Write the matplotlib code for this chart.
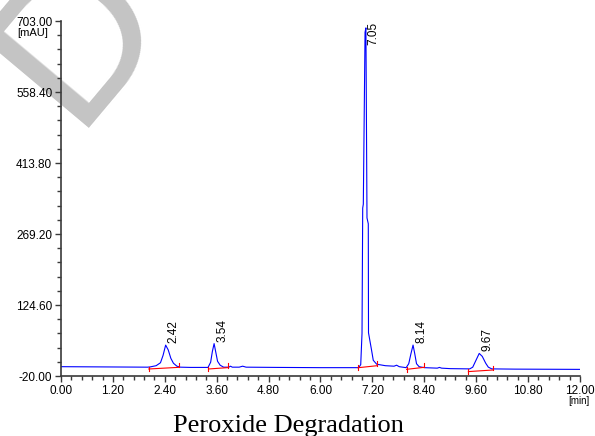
import matplotlib.pyplot as plt
from matplotlib.ticker import FixedLocator, MultipleLocator, FormatStrFormatter

# chromatogram trace (time in min, signal in mAU)
time = [0.00, 1.00, 2.00, 2.06, 2.20, 2.30, 2.36, 2.42, 2.48, 2.54, 2.60, 2.68, 2.76,
        3.00, 3.40, 3.46, 3.50, 3.54, 3.58, 3.62, 3.68, 3.76, 3.88, 3.92, 3.96, 4.12,
        4.20, 4.28, 5.00, 6.00, 6.88, 6.93, 6.96, 6.976, 6.99, 7.03, 7.05, 7.075, 7.105,
        7.11, 7.18, 7.22, 7.30, 7.50, 7.70, 7.76, 7.82, 7.98, 8.04, 8.09, 8.14, 8.18,
        8.22, 8.28, 8.40, 8.70, 8.75, 8.80, 9.00, 9.45, 9.52, 9.60, 9.67, 9.74, 9.82,
        9.88, 9.96, 10.50, 12.00]
signal = [-1, -1.5, -2, -1.5, 1, 7, 22, 43, 33, 16, 6, 0, -2,
          -2.5, -2.5, 8, 30, 46, 28, 10, 2, -2, -2, 0, -2, -2,
          0, -2, -2.5, -3, -3, 3, 67, 322, 330, 680, 689, 302, 290,
          68, 33, 12, 4, 1, 0, 2, -1, -3, 5, 25, 43, 25,
          5, -1, -3, -4, -2.5, -4, -5, -5.5, -2, 13, 26, 20, 6,
          -2, -5.5, -6, -6.5]

# retention time labels and apex values
peak_rt = [2.42, 3.54, 7.05, 8.14, 9.67]
peak_height = [43, 46, 689, 43, 26]
peak_labels = ['2.42', '3.54', '7.05', '8.14', '9.67']

# integration baselines (red)
base_start = [2.03, 3.41, 6.87, 7.99, 9.42]
base_end = [2.735, 3.85, 7.31, 8.39, 9.98]
base_start_val = [-5.7, -5.7, -3.1, -6.4, -11]
base_end_val = [-2.3, -3, 1, -2.4, -7.8]

y_ticks = [-20.0, 124.6, 269.2, 413.8, 558.4, 703.0]

plt.rcParams['font.family'] = ['Liberation Sans', 'DejaVu Sans']

fig = plt.figure(figsize=(5.95, 4.36), dpi=100)

# grey watermark behind everything
fig.text(0.122, 0.706, 'DOC', fontsize=150, color='#c4c4c4', rotation=50,
         rotation_mode='anchor', ha='left', va='baseline', zorder=-5)

ax = fig.add_axes([0.1025, 0.1376, 0.8723, 0.8142])
ax.patch.set_alpha(0)

ax.plot(time, signal, color='#0000ff', lw=0.8)

for x0, x1, v0, v1 in zip(base_start, base_end, base_start_val, base_end_val):
    ax.plot([x0, x1], [v0, v1], color='#ff0000', lw=0.8)
    ax.plot([x0, x0], [v0 + 5, v0 - 5], color='#ff0000', lw=0.8)
    ax.plot([x1, x1], [v1, v1 + 9], color='#ff0000', lw=0.8)

for rt, h, lab in zip(peak_rt, peak_height, peak_labels):
    if h > 600:
        ax.text(rt + 0.03, 702, lab, rotation=90, ha='left', va='top', fontsize=8.5)
    else:
        ax.text(rt + 0.05, h + 4, lab, rotation=90, ha='left', va='bottom', fontsize=8.5)

ax.set_xlim(0, 12)
ax.set_ylim(-20, 703)
ax.xaxis.set_major_locator(MultipleLocator(1.2))
ax.xaxis.set_minor_locator(MultipleLocator(0.24))
ax.yaxis.set_major_locator(FixedLocator(y_ticks))
ax.yaxis.set_minor_locator(MultipleLocator(144.6 / 5, offset=-20))
ax.xaxis.set_major_formatter(FormatStrFormatter('%.2f'))
ax.yaxis.set_major_formatter(FormatStrFormatter('%.2f'))

for side in ['top', 'right']:
    ax.spines[side].set_visible(False)
for side in ['left', 'bottom']:
    ax.spines[side].set_color('#3a3a3a')
    ax.spines[side].set_linewidth(1.2)

ax.tick_params(which='major', length=4.3, width=1, color='#3a3a3a', labelsize=8.5, pad=2)
ax.tick_params(which='minor', length=2.8, width=1, color='#3a3a3a')

fig.text(48 / 595, 1 - 32.5 / 436, '[mAU]', ha='right', va='center', fontsize=8)
fig.text(568 / 595, 1 - 401 / 436, '[min]', ha='left', va='center', fontsize=7)

fig.text(0.485, 0.009, 'Peroxide Degradation', ha='center', va='baseline',
         fontsize=19, family='Liberation Serif')

fig.savefig('out.png', dpi=100)
